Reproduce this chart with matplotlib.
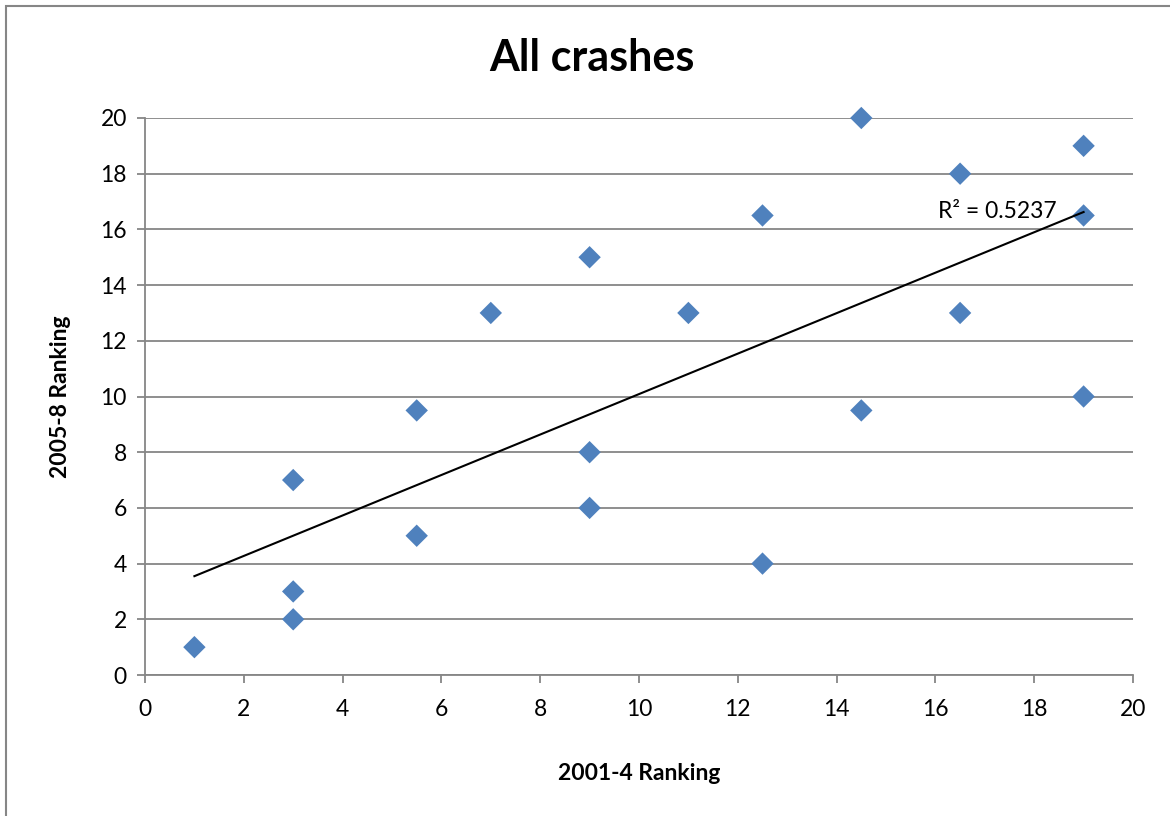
import numpy as np
import matplotlib
matplotlib.use("Agg")
import matplotlib.pyplot as plt
from matplotlib.patches import Rectangle

plt.rcParams['font.family'] = ['Lato', 'DejaVu Sans']

rank_2001_4 = [1, 3, 3, 3, 5.5, 5.5, 7, 9, 9, 9, 11, 12.5, 12.5, 14.5, 14.5, 16.5, 16.5, 19, 19, 19]
rank_2005_8 = [1, 2, 3, 7, 5, 9.5, 13, 15, 8, 6, 13, 16.5, 4, 20, 9.5, 18, 13, 19, 16.5, 10]
title = "All crashes"
xlabel = "2001-4 Ranking"
ylabel = "2005-8 Ranking"
r2_label = "R² = 0.5237"
ticks = [0, 2, 4, 6, 8, 10, 12, 14, 16, 18, 20]

x = np.array(rank_2001_4)
y = np.array(rank_2005_8)

fig = plt.figure(figsize=(11.7, 8.16), dpi=100)
fig.patches.append(Rectangle((6/1170, -0.1), 1.2, 1 - 6/816 + 0.1, transform=fig.transFigure,
                             fill=False, edgecolor='#868686', linewidth=1.5, zorder=0))
ax = fig.add_axes([145/1170, (816-675)/816, 988/1170, 557/816])

grid_c = '#868686'
ax.set_xlim(0, 20)
ax.set_ylim(0, 20)
ax.set_xticks(ticks)
ax.set_yticks(ticks)
ax.yaxis.grid(True, color=grid_c, linewidth=1.3)
ax.set_axisbelow(True)
for s in ['top', 'right']:
    ax.spines[s].set_visible(False)
for s in ['left', 'bottom']:
    ax.spines[s].set_color(grid_c)
    ax.spines[s].set_linewidth(1.3)
ax.tick_params(axis='both', direction='out', length=6, width=1.3, color=grid_c,
               labelsize=16.5, labelcolor='black')
ax.tick_params(axis='x', pad=11)
ax.tick_params(axis='y', pad=7)

ax.scatter(x, y, marker='D', s=130, color='#4F81BD', edgecolors='none', zorder=3, clip_on=False)

coef = np.polyfit(x, y, 1)
xl = np.array([x.min(), x.max()])
ax.plot(xl, np.polyval(coef, xl), color='black', linewidth=1.5, zorder=4)
ax.text(16.05, 16.65, r2_label, fontsize=16.5, ha='left', va='center', zorder=5)

ax.set_xlabel(xlabel, fontsize=16.5, fontweight='bold', labelpad=31)
ax.set_ylabel(ylabel, fontsize=16.5, fontweight='bold', labelpad=21)
fig.text(592/1170, 1 - 58/816, title, fontsize=31, fontweight='bold', ha='center', va='center')

fig.savefig('out.png', dpi=100)
